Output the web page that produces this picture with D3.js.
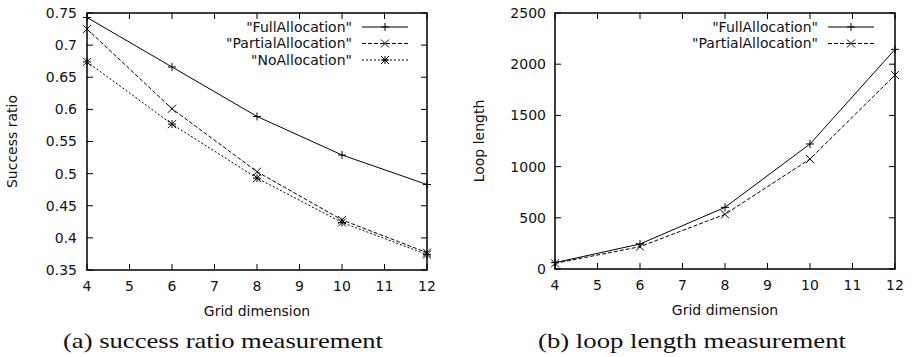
<!DOCTYPE html>
<html>
<head>
<meta charset="utf-8">
<script src="https://cdn.jsdelivr.net/npm/d3@7"></script>
<style>
  body { margin: 0; background: #fff; }
  svg text { font-family: "DejaVu Sans", sans-serif; font-size: 14px; fill: #111; }
  svg text.caption { font-family: "Liberation Serif", "DejaVu Serif", serif; font-size: 21px; }
</style>
</head>
<body>
<svg id="chart" width="916" height="357"></svg>
<script>
// data
const gridDims = [4, 6, 8, 10, 12]
const xTicks = [4, 5, 6, 7, 8, 9, 10, 11, 12]

const ratioFull = [0.743, 0.666, 0.589, 0.529, 0.483]
const ratioPartial = [0.725, 0.601, 0.503, 0.428, 0.377]
const ratioNone = [0.674, 0.577, 0.493, 0.424, 0.374]
const ratioTicks = [0.35, 0.4, 0.45, 0.5, 0.55, 0.6, 0.65, 0.7, 0.75]

const loopFull = [62, 244, 602, 1221, 2145]
const loopPartial = [55, 218, 534, 1074, 1894]
const loopTicks = [0, 500, 1000, 1500, 2000, 2500]

const styles = {
  full: {dash: null, marker: 'plus'},
  partial: {dash: '4,2', marker: 'cross'},
  none: {dash: '2,2', marker: 'star'}
}

const svg = d3.select('#chart')

function marker(g, kind, cx, cy) {
  const s = 4
  const p = d3.path()
  if (kind === 'plus' || kind === 'star') {
    p.moveTo(cx - s, cy); p.lineTo(cx + s, cy)
    p.moveTo(cx, cy - s); p.lineTo(cx, cy + s)
  }
  if (kind === 'cross' || kind === 'star') {
    p.moveTo(cx - s, cy - s); p.lineTo(cx + s, cy + s)
    p.moveTo(cx - s, cy + s); p.lineTo(cx + s, cy - s)
  }
  g.append('path').attr('d', p.toString()).attr('stroke', '#000').attr('stroke-width', 1).attr('fill', 'none')
}

function panel(opts) {
  const {left, right, top, bottom, yDomain, yTicks, series, yLabel, yLabelX, labelGap, caption, legendX} = opts
  const x = d3.scaleLinear().domain([4, 12]).range([left, right])
  const y = d3.scaleLinear().domain(yDomain).range([bottom, top])
  const g = svg.append('g')
  const tl = 6

  // ticks, mirrored like gnuplot
  yTicks.forEach(v => {
    g.append('line').attr('x1', left).attr('x2', left + tl).attr('y1', y(v)).attr('y2', y(v)).attr('stroke', '#000')
    g.append('line').attr('x1', right).attr('x2', right - tl).attr('y1', y(v)).attr('y2', y(v)).attr('stroke', '#000')
    g.append('text').attr('x', left - labelGap).attr('y', y(v)).attr('dy', '0.35em').attr('text-anchor', 'end').text(v)
  })
  xTicks.forEach(v => {
    g.append('line').attr('x1', x(v)).attr('x2', x(v)).attr('y1', bottom).attr('y2', bottom - tl).attr('stroke', '#000')
    g.append('line').attr('x1', x(v)).attr('x2', x(v)).attr('y1', top).attr('y2', top + tl).attr('stroke', '#000')
    g.append('text').attr('x', x(v)).attr('y', bottom + 16).attr('dy', '0.35em').attr('text-anchor', 'middle').text(v)
  })

  const line = d3.line().x((d, i) => x(gridDims[i])).y(d => y(d))
  series.forEach(s => {
    const st = styles[s.style]
    g.append('path').attr('d', line(s.values)).attr('fill', 'none').attr('stroke', '#000').attr('stroke-width', 1)
      .attr('stroke-dasharray', st.dash)
    s.values.forEach((v, i) => marker(g, st.marker, x(gridDims[i]), y(v)))
  })

  // legend
  series.forEach((s, i) => {
    const ly = 27 + i * 16.5
    const st = styles[s.style]
    g.append('text').attr('x', legendX).attr('y', ly).attr('dy', '0.35em').attr('text-anchor', 'end').text('"' + s.name + '"')
    g.append('line').attr('x1', legendX + 10).attr('x2', legendX + 56).attr('y1', ly).attr('y2', ly)
      .attr('stroke', '#000').attr('stroke-dasharray', st.dash)
    marker(g, st.marker, legendX + 33, ly)
  })

  g.append('rect').attr('x', left).attr('y', top).attr('width', right - left).attr('height', bottom - top)
    .attr('fill', 'none').attr('stroke', '#000').attr('stroke-width', 1.5)

  g.append('text').attr('x', (left + right) / 2).attr('y', bottom + 41).attr('dy', '0.35em').attr('text-anchor', 'middle').text('Grid dimension')
  g.append('text').attr('transform', `translate(${yLabelX},${(top + bottom) / 2}) rotate(-90)`).attr('dy', '0.35em')
    .attr('text-anchor', 'middle').text(yLabel)
  g.append('text').attr('class', 'caption').attr('x', caption.x).attr('y', 348)
    .attr('text-anchor', 'middle').attr('textLength', caption.width).attr('lengthAdjust', 'spacingAndGlyphs')
    .text(caption.text)
}

panel({
  left: 87, right: 427, top: 13, bottom: 270,
  yDomain: [0.35, 0.75], yTicks: ratioTicks,
  series: [
    {name: 'FullAllocation', values: ratioFull, style: 'full'},
    {name: 'PartialAllocation', values: ratioPartial, style: 'partial'},
    {name: 'NoAllocation', values: ratioNone, style: 'none'}
  ],
  yLabel: 'Success ratio', yLabelX: 12, labelGap: 10,
  caption: {x: 223, width: 320, text: '(a) success ratio measurement'},
  legendX: 352
})

panel({
  left: 555, right: 895, top: 13, bottom: 269,
  yDomain: [0, 2500], yTicks: loopTicks,
  series: [
    {name: 'FullAllocation', values: loopFull, style: 'full'},
    {name: 'PartialAllocation', values: loopPartial, style: 'partial'}
  ],
  yLabel: 'Loop length', yLabelX: 479, labelGap: 9,
  caption: {x: 692, width: 308, text: '(b) loop length measurement'},
  legendX: 818
})
</script>
</body>
</html>
